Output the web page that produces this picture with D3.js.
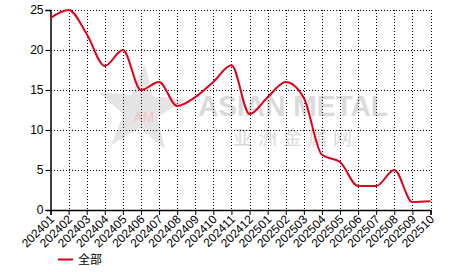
<!DOCTYPE html>
<html><head><meta charset="utf-8">
<script src="https://cdn.jsdelivr.net/npm/d3@7"></script>
<style>body{margin:0;background:#fff}svg{display:block}</style>
</head><body><svg id="c" width="466" height="272"></svg>
<script>
const categories = ["202401","202402","202403","202404","202405","202406","202407","202408","202409","202410","202411","202412","202501","202502","202503","202504","202505","202506","202507","202508","202509","202510"];
const values = [24,25,22,18,20,15,16,13,14.1,16,18.1,12,14.1,16,14,6.9,6,3,3,5,1,1.1];
const yTicks = [0,5,10,15,20,25];
const seriesName = "全部";

const svg = d3.select("#c");
const L=50.5, R=430.5, T=10, B=210;
const x = d3.scalePoint().domain(categories).range([L,R]);
const y = d3.scaleLinear().domain([0,25]).range([B,T]);

// watermark
const wm = svg.append("g");
const cx=141, cy=110, ro=46, ri=18;
const pts=[];
for(let i=0;i<10;i++){const a=-Math.PI/2+0.08+i*Math.PI/5;const r=i%2?ri:ro;pts.push([cx+r*Math.cos(a),cy+r*Math.sin(a)]);}
wm.append("polygon").attr("points",pts.map(p=>p.join(",")).join(" ")).attr("fill","#e4e4e4");
wm.append("text").attr("x",144).attr("y",122).attr("text-anchor","middle").attr("font-family","Liberation Sans, Arial").attr("font-size",14).attr("fill","#f4c4c4").text("AM");
wm.append("text").attr("x",198).attr("y",116).attr("font-family","Liberation Sans, Arial").attr("font-weight","bold").attr("font-size",30).attr("fill","#dadada").attr("textLength",190).attr("lengthAdjust","spacingAndGlyphs").text("ASIAN METAL");
wm.append("text").attr("x",233).attr("y",145).attr("font-family","Noto Sans CJK SC").attr("font-size",19).attr("fill","#dadada").attr("textLength",119).text("亚洲金属网");

// grid
const grid = svg.append("g").attr("stroke","#000").attr("stroke-width",1).attr("stroke-dasharray","1,2").attr("shape-rendering","crispEdges");
categories.forEach((c,i)=>{ if(i>0) grid.append("line").attr("x1",Math.round(x(c))+0.5).attr("x2",Math.round(x(c))+0.5).attr("y1",T).attr("y2",B); });
yTicks.forEach(t=>{ if(t>0) grid.append("line").attr("x1",L).attr("x2",R).attr("y1",Math.round(y(t))+0.5).attr("y2",Math.round(y(t))+0.5); });

// axes
const yAxis = svg.append("g").attr("transform",`translate(${L},0)`).call(d3.axisLeft(y).tickValues(yTicks).tickSize(5).tickPadding(2));
const xAxis = svg.append("g").attr("transform",`translate(0,${B})`).call(d3.axisBottom(x).tickSize(5).tickPadding(0));
[yAxis,xAxis].forEach(a=>{a.select(".domain").attr("stroke","#000").attr("stroke-width",1.5);a.selectAll(".tick line").attr("stroke","#000");a.selectAll("text").attr("font-family","Liberation Sans, Arial").attr("fill","#000");});
yAxis.selectAll("text").attr("font-size",12);
xAxis.selectAll("text").attr("font-size",12).attr("text-anchor","end").attr("y",0).attr("dy","0.35em").attr("transform","translate(1,7) rotate(-45)");

// line
const line = d3.line().x((d,i)=>x(categories[i])).y(d=>y(d)).curve(d3.curveMonotoneX);
svg.append("path").datum(values).attr("d",line).attr("fill","none").attr("stroke","#e0001b").attr("stroke-width",2);

// legend
svg.append("line").attr("x1",58).attr("x2",73).attr("y1",259.5).attr("y2",259.5).attr("stroke","#e0001b").attr("stroke-width",2);
svg.append("text").attr("x",78).attr("y",264).attr("font-family","Noto Sans CJK SC").attr("font-size",12).attr("fill","#000").text(seriesName);
</script></body></html>
